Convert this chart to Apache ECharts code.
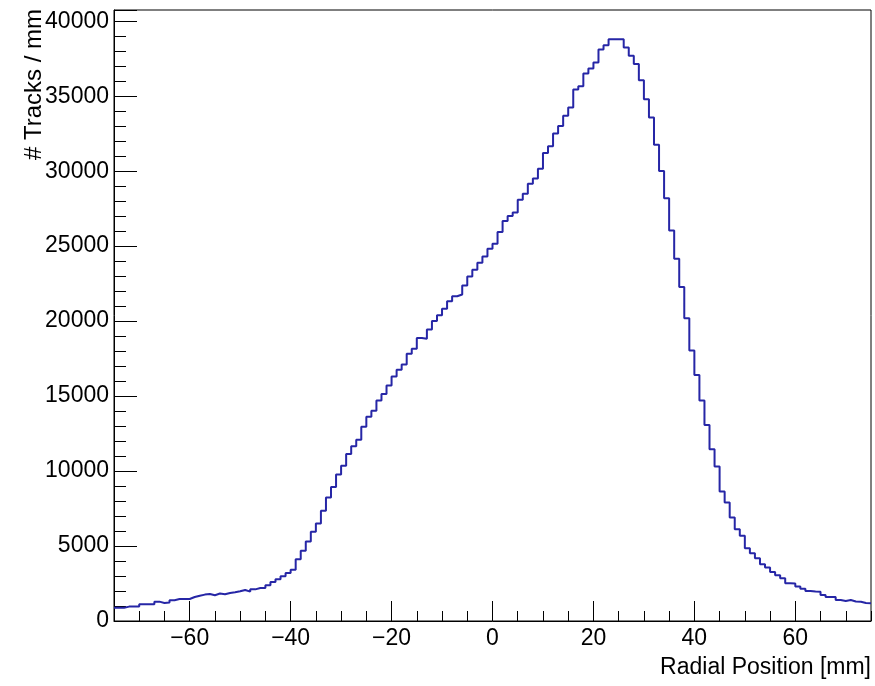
<!DOCTYPE html>
<html>
<head>
<meta charset="utf-8">
<script src="https://cdn.jsdelivr.net/npm/echarts@6/dist/echarts.min.js"></script>
<style>
html,body{margin:0;padding:0;background:#fff;}
#chart{width:875px;height:686px;}
</style>
</head>
<body>
<div id="chart"></div>
<script>
// Histogram: 1 mm bins from -75 to 75 mm
var binStart = -75;
var binWidth = 1;
var counts = [
  890,890,960,960,960,1110,1110,1110,1290,1200,
  1240,1380,1470,1470,1470,1600,1690,1760,1800,1720,
  1830,1780,1870,1920,1980,2070,1960,2110,2200,2200,
  2380,2600,2780,2980,3200,3420,4120,4680,5300,5950,
  6500,7350,8240,8940,9770,10350,11130,11650,12090,12960,
  13630,14030,14700,15140,15700,16300,16750,17100,17820,18150,
  18880,18820,19440,20000,20400,20820,21330,21660,21780,22380,
  22980,23420,23890,24310,24830,25160,25940,26680,27010,27240,
  28100,28500,29170,29510,30170,31220,31660,32510,33020,33690,
  34250,35450,35670,36520,36850,37250,38110,38400,38800,38800,
  38800,38250,37700,37150,36070,34800,33580,31770,30010,28200,
  26050,24160,22270,20190,18040,16410,14700,13070,11450,10300,
  8640,7900,6900,6120,5680,4860,4520,4190,3790,3560,
  3270,3050,2850,2520,2500,2300,2150,2000,1960,1950,
  1740,1600,1600,1400,1330,1400,1300,1280,1200,1180
];
var xMajorTicks = [-60,-40,-20,0,20,40,60];
var xMinorTicks = [-75,-70,-65,-60,-55,-50,-45,-40,-35,-30,-25,-20,-15,-10,-5,0,5,10,15,20,25,30,35,40,45,50,55,60,65,70,75];
var yTickLabels = [0,5000,10000,15000,20000,25000,30000,35000,40000];
var xTitle = 'Radial Position [mm]';
var yTitle = '# Tracks / mm';

var stepData = counts.map(function(c, i){ return [binStart + i*binWidth, c]; });
stepData.push([binStart + counts.length*binWidth, counts[counts.length-1]]);

var FONT = '"Liberation Sans", Arial, Helvetica, sans-serif';
var chart = echarts.init(document.getElementById('chart'), null, {renderer:'canvas'});
chart.setOption({
  animation: false,
  backgroundColor: '#fff',
  grid: {left:114, right:4, top:10, bottom:65, show:true, borderColor:'#000', borderWidth:1, backgroundColor:'transparent'},
  xAxis: [{
    type:'value', min:-75, max:75,
    axisLine:{show:true, onZero:false, lineStyle:{color:'#000', width:1}},
    axisTick:{show:true, inside:true, length:20, customValues:xMajorTicks, lineStyle:{color:'#000', width:1}},
    axisLabel:{show:true, customValues:xMajorTicks, margin:6, color:'#000', fontSize:23, fontFamily:FONT,
      formatter:function(v){ return v < 0 ? '\u2212' + Math.abs(v) : String(v); }},
    splitLine:{show:false}
  },{
    type:'value', min:-75, max:75, position:'bottom',
    axisLine:{show:false, onZero:false},
    axisTick:{show:true, inside:true, length:10, customValues:xMinorTicks, lineStyle:{color:'#000', width:1}},
    axisLabel:{show:false},
    splitLine:{show:false}
  }],
  yAxis: {
    type:'value', min:0, max:40750, interval:5000, position:'left',
    axisLine:{show:true, onZero:false, lineStyle:{color:'#000', width:1}},
    axisTick:{show:true, inside:true, length:23, lineStyle:{color:'#000', width:1}},
    minorTick:{show:true, splitNumber:5, length:12, lineStyle:{color:'#000', width:1}},
    axisLabel:{margin:5, color:'#000', fontSize:23, fontFamily:FONT, showMaxLabel:false,
      formatter:function(v){ return yTickLabels.indexOf(v) >= 0 ? String(v) : ''; }},
    splitLine:{show:false}
  },
  series: [{
    type:'line', xAxisIndex:0, step:'end', data:stepData, showSymbol:false, symbol:'none',
    lineStyle:{color:'#2626a6', width:2}, clip:true
  }],
  graphic: [
    {type:'text', x:871, y:668, style:{text:xTitle, fill:'#000', font:'23px ' + FONT, textAlign:'right', textVerticalAlign:'middle'}},
    {type:'text', x:34, y:9, rotation:Math.PI/2, style:{text:yTitle, fill:'#000', font:'24px ' + FONT, textAlign:'right', textVerticalAlign:'middle'}}
  ]
});
</script>
</body>
</html>
